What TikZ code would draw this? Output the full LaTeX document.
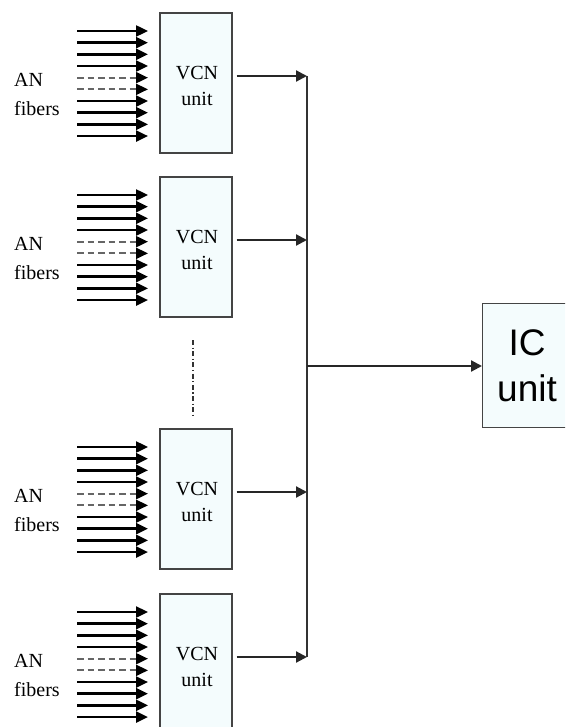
\documentclass[tikz,border=0pt]{standalone}
\usepackage{fontspec}
\setmainfont{Liberation Serif}
\newfontfamily\arialf{Liberation Sans}
\usetikzlibrary{arrows.meta,calc}
\definecolor{boxfill}{HTML}{F4FCFD}
\definecolor{edge}{HTML}{444444}
\begin{document}
\begin{tikzpicture}[x=1pt,y=-1pt,
  vcnbox/.style={draw=edge,line width=1.6pt,fill=boxfill,minimum width=72pt,minimum height=140pt,inner sep=0pt,anchor=north west},
  icbox/.style={draw=edge,line width=1.4pt,fill=boxfill,minimum width=90pt,minimum height=124pt,inner sep=0pt,anchor=north west},
  vcntext/.style={font=\fontsize{20}{26}\selectfont,align=center,inner sep=0pt},
  antext/.style={font=\fontsize{20}{29}\selectfont,align=left,anchor=west,inner sep=0pt},
  ictext/.style={font=\arialf\fontsize{37}{46}\selectfont,align=center,inner sep=0pt},
  fiber/.style={line width=2.4pt,black,-{Triangle[length=12pt,width=11pt]}},
  dfiber/.style={line width=2pt,black!60,dash pattern=on 6.5pt off 4pt,-{Triangle[length=12pt,width=11pt,color=black,fill=black]}},
  outarrow/.style={line width=2.2pt,black!85,-{Triangle[length=11pt,width=11pt]}},
  bus/.style={line width=2.2pt,black!80},
  dots/.style={line width=2.4pt,black!80,dash pattern=on 5pt off 2.5pt on 1.2pt off 2.5pt}
]
\useasboundingbox (0,0) rectangle (565,727);
\clip (0,0) rectangle (565,727);

\foreach \t [count=\i] in {12,176,428,593} {
  \node[vcnbox] (v\i) at (159,\t) {};
  \node[vcntext] (vt\i) at (197,\t+74) {VCN\\unit};
  \node[antext] (an\i) at (14,\t+82) {AN\\fibers};
  \foreach \j in {0,...,9} {
    \coordinate (s\i-\j) at (77,\t+19+\j*11.67);
    \coordinate (e\i-\j) at (148,\t+19+\j*11.67);
  }
  \foreach \j in {0,1,2,3,6,7,8,9} {
    \draw[fiber] (s\i-\j) -- (e\i-\j);
  }
  \foreach \j in {4,5} {
    \draw[dfiber] (s\i-\j) -- (e\i-\j);
  }
  \coordinate (b\i) at (307,\t+64);
  \draw[outarrow,shorten <=4pt] (v\i.east |- b\i) -- (b\i);
}

\draw[bus] (b1) -- (b4);

\coordinate (d1) at (193,340);
\coordinate (d2) at (193,416);
\draw[dots] (d1) -- (d2);

\node[icbox] (ic) at (482,303) {};
\node[ictext] (ict) at (527,366) {IC\\unit};
\coordinate (m) at (307,366);
\draw[outarrow] (m) -- (ic.west |- m);
\end{tikzpicture}
\end{document}
